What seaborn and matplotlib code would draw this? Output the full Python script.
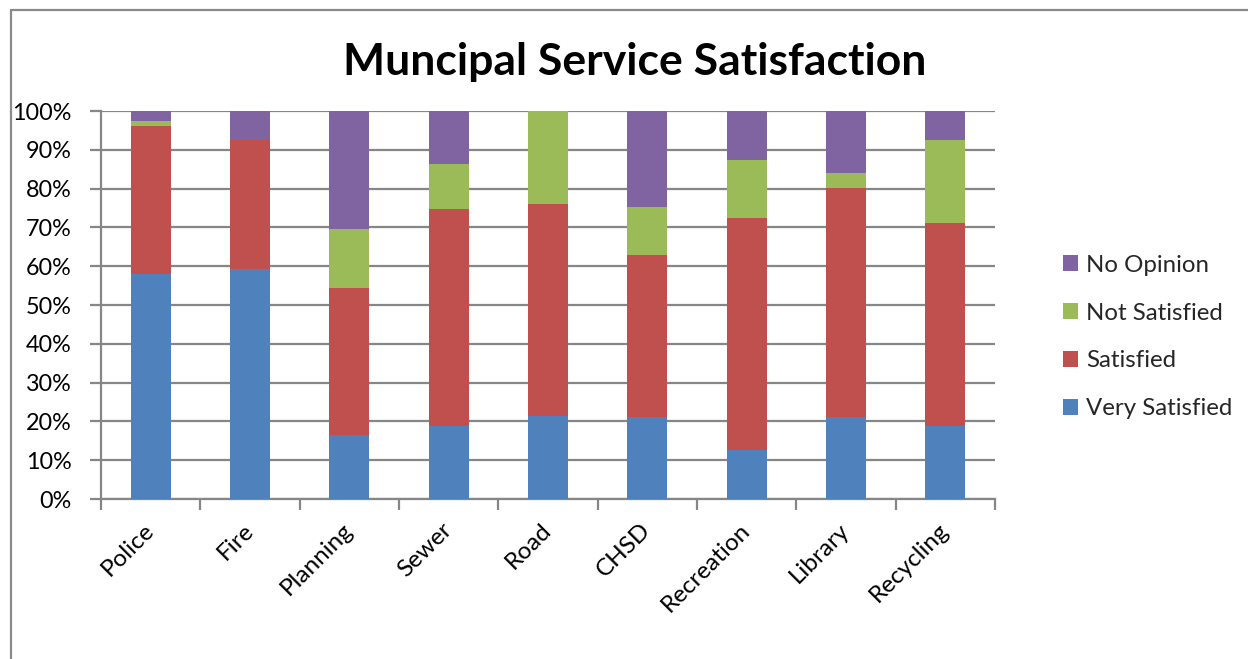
import matplotlib
matplotlib.use("Agg")
import matplotlib.pyplot as plt
from matplotlib.lines import Line2D
from matplotlib.ticker import FixedLocator, PercentFormatter
import numpy as np
import pandas as pd
import seaborn as sns

# Survey results per service (percent of respondents)
services = ["Police", "Fire", "Planning", "Sewer", "Road", "CHSD",
            "Recreation", "Library", "Recycling"]
very_satisfied = [58.1, 59.2, 16.4, 18.7, 21.3, 21.1, 12.6, 21.1, 18.7]
satisfied      = [38.1, 33.2, 38.1, 56.1, 54.8, 41.8, 59.9, 59.1, 52.5]
not_satisfied  = [1.2, 0.0, 15.1, 11.5, 23.9, 12.4, 15.0, 3.8, 21.2]
no_opinion     = [2.6, 7.6, 30.4, 13.7, 0.0, 24.7, 12.5, 16.0, 7.6]

levels = ["Very Satisfied", "Satisfied", "Not Satisfied", "No Opinion"]
colors = {"Very Satisfied": "#4F81BD", "Satisfied": "#C0504D",
          "Not Satisfied": "#9BBB59", "No Opinion": "#8064A2"}

sns.set_theme(style="white")
plt.rcParams["font.family"] = ["Lato", "DejaVu Sans"]

# Normalise each column to 100% and build cumulative tops for stacking
vals = np.array([very_satisfied, satisfied, not_satisfied, no_opinion], dtype=float)
vals = vals / vals.sum(axis=0) * 100
cum = np.cumsum(vals, axis=0)

rows = []
for li, lvl in enumerate(levels):
    for si, svc in enumerate(services):
        rows.append({"Service": svc, "Level": lvl, "Top": cum[li, si]})
df = pd.DataFrame(rows)

fig = plt.figure(figsize=(12.48, 6.59), dpi=100)
ax = fig.add_axes([101 / 1248, 1 - 499 / 659, 894 / 1248, 388 / 659])

hue_order = levels[::-1]  # tallest cumulative drawn first, smaller ones on top
sns.barplot(data=df, x="Service", y="Top", hue="Level", hue_order=hue_order,
            order=services, palette=colors, dodge=False, width=0.4,
            saturation=1, linewidth=0, ax=ax, zorder=3)

grid_c = "#868686"
ax.set_xlim(-0.5, len(services) - 0.5)
ax.set_ylim(0, 100)
ax.yaxis.set_major_locator(FixedLocator(np.arange(0, 101, 10)))
ax.yaxis.set_major_formatter(PercentFormatter(decimals=0))
ax.grid(axis="y", color=grid_c, linewidth=1.6, zorder=0)
ax.set_axisbelow(True)
for side in ["top", "right"]:
    ax.spines[side].set_visible(False)
for side in ["left", "bottom"]:
    ax.spines[side].set_color(grid_c)
    ax.spines[side].set_linewidth(1.6)

ax.set_xlabel("")
ax.set_ylabel("")

# Category boundary tick marks below the x axis
ax.set_xticks(np.arange(-0.5, len(services), 1.0), minor=True)
ax.tick_params(axis="x", which="minor", length=8, width=1.6, color=grid_c,
               direction="out", bottom=True)
ax.tick_params(axis="x", which="major", length=0, pad=20, labelsize=17.5,
               labelcolor="black")
ax.tick_params(axis="y", which="major", length=8, width=1.6, color=grid_c,
               direction="out", left=True, pad=13, labelsize=16.8,
               labelcolor="black")
for lab in ax.get_xticklabels():
    lab.set_rotation(45)
    lab.set_ha("right")
    lab.set_va("center")
    lab.set_rotation_mode("anchor")

ax.set_title("")
fig.text(635 / 1248, 1 - 62 / 659, "Muncipal Service Satisfaction",
         ha="center", va="center", fontsize=32, fontweight="bold",
         color="black")

handles, labels = ax.get_legend_handles_labels()
if ax.legend_:
    ax.legend_.remove()
fig.legend(handles, labels, loc="center left",
           bbox_to_anchor=(1063 / 1248, 1 - 337 / 659),
           bbox_transform=fig.transFigure, frameon=False,
           fontsize=17.3, handlelength=0.62, handleheight=0.62,
           handletextpad=0.35, labelspacing=1.12, borderpad=0,
           borderaxespad=0)

# Outer chart frame (top and left edges visible)
frame_kw = dict(color="#8a8a8a", linewidth=1.6, transform=fig.transFigure)
fig.add_artist(Line2D([11 / 1248, 1.0], [1 - 10 / 659, 1 - 10 / 659], **frame_kw))
fig.add_artist(Line2D([11 / 1248, 11 / 1248], [0.0, 1 - 10 / 659], **frame_kw))

fig.savefig("out.png", dpi=100, facecolor="white")
